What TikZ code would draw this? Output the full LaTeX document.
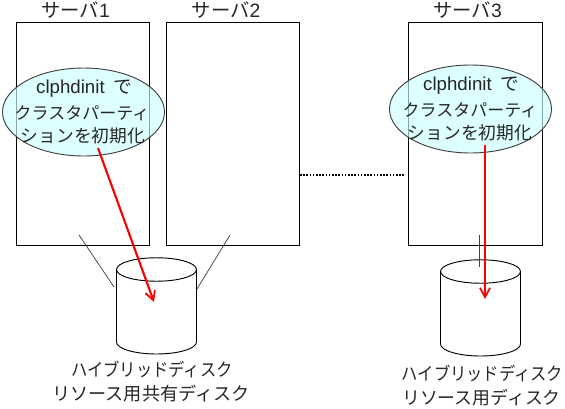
\documentclass[tikz,border=0pt]{standalone}
\usepackage{fontspec}
\setmainfont{Noto Sans CJK JP}
\newfontfamily\lat{Liberation Sans}
\usetikzlibrary{shapes.geometric,arrows.meta}
\definecolor{cloudfill}{HTML}{CCFFFF}
\newcommand{\fsz}[1]{\fontsize{#1pt}{15pt}\selectfont}
\tikzset{
  px/.style={x=0.75pt,y=-0.75pt},
  serverbox/.style={draw=black,line width=0.75pt,fill=white,minimum width=100pt,minimum height=167.6pt,inner sep=0pt},
  cloud/.style={draw=black!75,line width=0.7pt,ellipse,fill=cloudfill,fill opacity=0.65,minimum width=121.5pt,minimum height=66pt,inner sep=0pt},
  jtext/.style={inner sep=0pt,text=black!85,anchor=center},
  redarrow/.style={draw=red,line width=1.6pt,-{Straight Barb[length=7pt,width=7.5pt,line width=1.3pt]}},
  thinlink/.style={draw=black!75,line width=0.55pt},
  diskline/.style={draw=black,line width=0.7pt},
  dotlink/.style={draw=black,line width=1pt,dash pattern=on 1.2pt off 1.2pt},
}
\newcommand{\diskshape}[3]{%
  \draw[diskline] (#1-40,#2) -- (#1-40,#3) arc[start angle=180,end angle=360,x radius=30pt,y radius=9pt]
     -- (#1+40,#2);
  \draw[diskline] (#1,#2) ellipse[x radius=30pt,y radius=8.8pt];
}
\begin{document}
\begin{tikzpicture}[px]
\useasboundingbox (0,0) rectangle (565,408);
\node[serverbox] (s1) at (83,134.2) {};
\node[serverbox] (s2) at (233,134.2) {};
\node[serverbox] (s3) at (475.5,134.2) {};
\node[jtext,font=\fsz{14.5}] (t1) at (75.5,10.5) {サーバ{\lat 1}};
\node[jtext,font=\fsz{14.5}] (t2) at (226,10.5) {サーバ{\lat 2}};
\node[jtext,font=\fsz{14.5}] (t3) at (467.5,10.5) {サーバ{\lat 3}};
\coordinate (d1a) at (79,235);
\coordinate (d1b) at (114,287);
\coordinate (d2a) at (230,235);
\coordinate (d2b) at (197,289);
\coordinate (d3a) at (479.5,235);
\coordinate (d3b) at (479.5,267);
\coordinate (g1) at (300,175);
\coordinate (g3) at (405,175);
\draw[dotlink] (g1) -- (g3);
\diskshape{156.5}{269.5}{342}
\diskshape{480.5}{271.5}{344}
\draw[thinlink] (d1a) -- (d1b);
\draw[thinlink] (d2a) -- (d2b);
\draw[thinlink] (d3a) -- (d3b);
\node[cloud] (e1) at (83.5,112) {};
\node[cloud] (e3) at (470.5,109) {};
\node[jtext,font=\fsz{14}] (a1) at (84,88.5) {{\lat\fontsize{14pt}{15pt}\selectfont clphdinit}\ \ で};
\node[jtext,font=\fsz{12.75}] (a2) at (82,113) {クラスタパーティ};
\node[jtext,font=\fsz{13.3}] (a3) at (83,136) {ションを初期化};
\node[jtext,font=\fsz{14}] (b1) at (471,85.5) {{\lat\fontsize{14pt}{15pt}\selectfont clphdinit}\ \ で};
\node[jtext,font=\fsz{12.75}] (b2) at (470,110) {クラスタパーティ};
\node[jtext,font=\fsz{13.3}] (b3) at (470,133) {ションを初期化};
\coordinate (r1s) at (98,148);
\coordinate (r1e) at (154,302);
\coordinate (r3s) at (485,145);
\coordinate (r3e) at (485,299);
\draw[redarrow] (r1s) -- (r1e);
\draw[redarrow] (r3s) -- (r3e);
\node[jtext,font=\fsz{13.5}] (c1) at (152,369) {\scalebox{0.905}[1]{ハイブリッドディスク}};
\node[jtext,font=\fsz{13.6}] (c2) at (151,394) {リソース用共有ディスク};
\node[jtext,font=\fsz{13.5}] (c3) at (482.5,373) {\scalebox{0.905}[1]{ハイブリッドディスク}};
\node[jtext,font=\fsz{13.4}] (c4) at (481.5,398) {リソース用ディスク};
\end{tikzpicture}
\end{document}
